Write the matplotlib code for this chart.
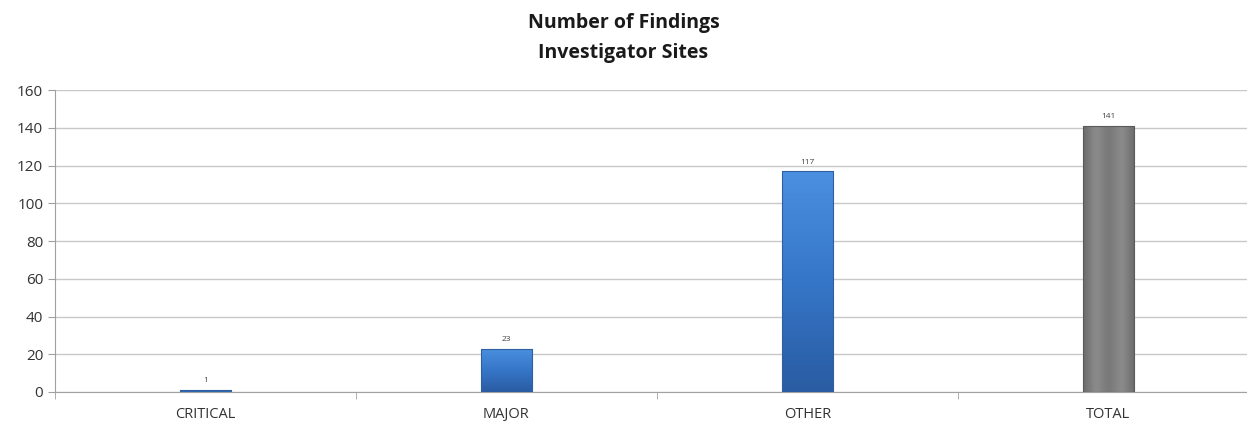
import matplotlib
matplotlib.use('Agg')
import matplotlib.pyplot as plt
import numpy as np
from matplotlib.colors import LinearSegmentedColormap

categories = ['CRITICAL', 'MAJOR', 'OTHER', 'TOTAL']
values = [1, 23, 117, 141]
is_total = [False, False, False, True]

plt.rcParams['font.family'] = ['Open Sans', 'DejaVu Sans']

fig = plt.figure(figsize=(12.47, 4.23), dpi=100)
# the plot area runs past the right edge of the image, as in the reference
ax = fig.add_axes([0.0441, 0.0733, 0.9655, 0.7137])

x = np.arange(len(categories))
bar_w = 0.17

blue_cmap = LinearSegmentedColormap.from_list('b', ['#2a5ca3', '#3676c8', '#4a8fe0'])
gray_cmap = LinearSegmentedColormap.from_list('g', ['#6e6e6e', '#8c8c8c', '#7a7a7a'])

bars = ax.bar(x, values, width=bar_w, color='none', edgecolor='none', zorder=3)
for xi, b, v, tot in zip(x, bars, values, is_total):
    x0 = b.get_x()
    x1 = x0 + b.get_width()
    cmap = gray_cmap if tot else blue_cmap
    if tot:
        grad = np.tile(np.concatenate([np.linspace(0.2, 1, 10), np.linspace(1, 0.2, 10)]), (2, 1))
    else:
        grad = np.linspace(0, 1, 50).reshape(-1, 1)
    im = ax.imshow(grad, cmap=cmap, extent=[x0, x1, 0, v], origin='lower',
                   aspect='auto', zorder=3)
    im.set_clip_path(b)
    edge = '#5a5a5a' if tot else '#2f5f9e'
    ax.add_patch(plt.Rectangle((x0, 0), x1 - x0, v, fill=False, edgecolor=edge, lw=0.8, zorder=4))
    ax.text(xi, v + 3, str(v), ha='center', va='bottom',
            fontsize=6, color='#404040', zorder=5)

ax.set_xlim(-0.5, len(categories) - 0.5)
ax.set_ylim(0, 160)
ax.set_yticks(np.arange(0, 161, 20))
ax.set_xticks(x)
ax.set_xticklabels(categories)
ax.set_xticks(np.arange(-0.5, len(categories), 1), minor=True)
ax.tick_params(axis='x', which='major', length=0, labelsize=10.5, labelcolor='#333333', pad=11)
ax.tick_params(axis='x', which='minor', length=5, color='#a0a0a0', direction='out')
ax.tick_params(axis='y', length=5, color='#a0a0a0', labelsize=11, labelcolor='#333333', direction='out')

ax.yaxis.grid(True, color='#c8c8c8', lw=1.0, zorder=0)
ax.set_axisbelow(True)
for s in ['top', 'right']:
    ax.spines[s].set_visible(False)
ax.spines['left'].set_color('#a0a0a0')
ax.spines['bottom'].set_color('#a0a0a0')

fig.text(0.5, 0.945, 'Number of Findings', ha='center', va='center',
         fontsize=14, fontweight='bold', color='#1a1a1a')
fig.text(0.5, 0.875, 'Investigator Sites', ha='center', va='center',
         fontsize=14, fontweight='bold', color='#1a1a1a')

fig.savefig('out.png', dpi=100)
